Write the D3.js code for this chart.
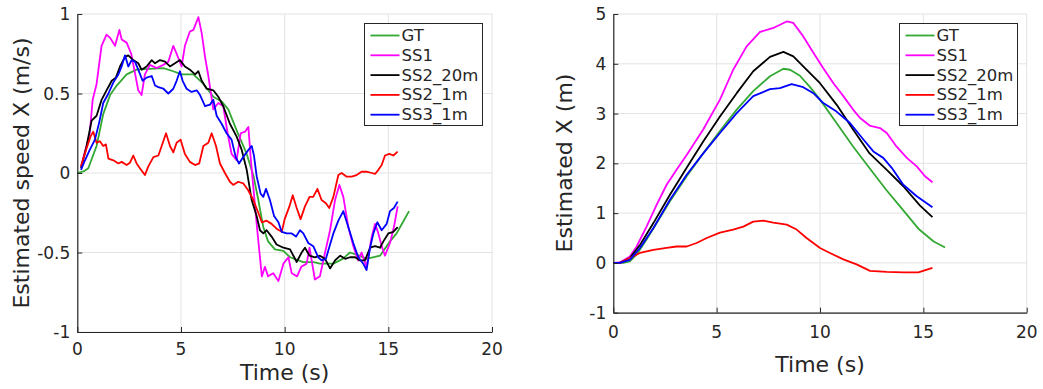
<!DOCTYPE html>
<html><head><meta charset="utf-8">
<script src="https://cdn.jsdelivr.net/npm/d3@7"></script>
<style>
body{margin:0;background:#fff}
svg{display:block}
text{font-family:"DejaVu Sans",sans-serif;fill:#262626}
</style>
</head><body>
<svg id="c" width="1043" height="389"></svg>
<script>
// ---------- DATA ----------
const seriesNames = ["GT", "SS1", "SS2_20m", "SS2_1m", "SS3_1m"];
const xTicks = [0, 5, 10, 15, 20];
const speedYTicks = [-1, -0.5, 0, 0.5, 1];
const posYTicks = [-1, 0, 1, 2, 3, 4, 5];

// Left panel: estimated speed X (m/s) vs time (s)
const speedGT = [[0,0],[0.3,0.01],[0.53,0.03],[0.93,0.17],[1.25,0.37],[1.58,0.49],[1.9,0.55],[2.38,0.62],[2.86,0.65],[3.5,0.655],[4.15,0.66],[4.63,0.64],[5.03,0.62],[5.6,0.62],[6.08,0.56],[6.56,0.48],[6.96,0.45],[7.28,0.40],[7.68,0.27],[8.17,0.12],[8.5,-0.02],[8.73,-0.17],[8.97,-0.34],[9.2,-0.43],[9.53,-0.48],[9.94,-0.49],[10.26,-0.53],[10.9,-0.56],[11.4,-0.56],[11.7,-0.57],[12.35,-0.57],[12.8,-0.54],[13.15,-0.5],[13.6,-0.52],[13.95,-0.54],[14.6,-0.52],[15.08,-0.43],[15.4,-0.38],[15.7,-0.31],[16.0,-0.24]];
const speedSS1 = [[0.18,0.04],[0.6,0.25],[0.74,0.46],[0.93,0.56],[1.17,0.8],[1.41,0.87],[1.58,0.85],[1.82,0.8],[2.03,0.9],[2.14,0.84],[2.38,0.82],[2.6,0.75],[2.78,0.63],[2.94,0.52],[3.1,0.49],[3.26,0.62],[3.5,0.68],[3.83,0.66],[4.15,0.68],[4.39,0.7],[4.63,0.8],[4.79,0.75],[5.03,0.67],[5.19,0.8],[5.43,0.89],[5.6,0.9],[5.84,0.98],[6.0,0.88],[6.16,0.73],[6.32,0.61],[6.56,0.4],[6.8,0.44],[7.04,0.42],[7.25,0.25],[7.44,0.12],[7.68,0.08],[7.88,0.25],[8.09,0.26],[8.25,0.29],[8.36,0.1],[8.49,-0.09],[8.68,-0.36],[8.9,-0.65],[9.05,-0.59],[9.2,-0.65],[9.45,-0.63],[9.7,-0.68],[9.94,-0.57],[10.18,-0.53],[10.34,-0.63],[10.6,-0.65],[10.8,-0.59],[11.06,-0.57],[11.2,-0.47],[11.46,-0.67],[11.7,-0.65],[11.95,-0.5],[12.19,-0.36],[12.43,-0.17],[12.64,-0.075],[12.83,-0.15],[13.07,-0.34],[13.31,-0.46],[13.55,-0.55],[13.71,-0.5],[13.95,-0.59],[14.2,-0.4],[14.36,-0.32],[14.52,-0.38],[14.68,-0.46],[14.84,-0.52],[15.08,-0.44],[15.27,-0.34],[15.45,-0.21]];
const speedSS2_20m = [[0.18,0.03],[0.45,0.17],[0.69,0.33],[0.93,0.36],[1.17,0.46],[1.41,0.52],[1.66,0.58],[1.86,0.6],[2.06,0.67],[2.3,0.73],[2.46,0.74],[2.7,0.71],[2.94,0.69],[3.1,0.65],[3.34,0.67],[3.59,0.71],[3.75,0.69],[3.99,0.71],[4.23,0.7],[4.47,0.67],[4.71,0.69],[4.95,0.71],[5.19,0.67],[5.43,0.65],[5.68,0.62],[5.84,0.64],[6.0,0.58],[6.24,0.53],[6.56,0.52],[6.8,0.48],[7.04,0.42],[7.36,0.31],[7.68,0.23],[7.93,0.145],[8.17,0.02],[8.41,-0.17],[8.65,-0.27],[8.81,-0.36],[8.97,-0.38],[9.13,-0.36],[9.37,-0.4],[9.61,-0.45],[9.94,-0.47],[10.26,-0.48],[10.58,-0.56],[10.82,-0.5],[10.98,-0.47],[11.2,-0.52],[11.46,-0.53],[11.7,-0.52],[11.95,-0.54],[12.19,-0.6],[12.43,-0.55],[12.68,-0.52],[12.92,-0.54],[13.15,-0.53],[13.4,-0.53],[13.63,-0.55],[13.87,-0.55],[14.12,-0.47],[14.36,-0.46],[14.6,-0.47],[14.76,-0.43],[15.0,-0.38],[15.24,-0.37],[15.45,-0.34]];
const speedSS2_1m = [[0.18,0.044],[0.42,0.145],[0.64,0.23],[0.77,0.26],[0.93,0.19],[1.09,0.2],[1.25,0.17],[1.38,0.18],[1.5,0.09],[1.74,0.08],[1.98,0.06],[2.14,0.07],[2.38,0.05],[2.54,0.065],[2.7,0.11],[2.86,0.06],[3.02,0.03],[3.26,-0.013],[3.42,0.04],[3.67,0.1],[3.91,0.11],[4.07,0.17],[4.28,0.25],[4.47,0.17],[4.63,0.13],[4.79,0.19],[4.98,0.21],[5.19,0.12],[5.43,0.07],[5.68,0.05],[5.88,0.06],[6.08,0.17],[6.32,0.19],[6.48,0.25],[6.69,0.17],[6.88,0.06],[7.12,0],[7.36,-0.055],[7.52,-0.075],[7.76,-0.055],[8.0,-0.065],[8.25,-0.11],[8.49,-0.17],[8.73,-0.25],[8.9,-0.31],[9.13,-0.3],[9.37,-0.32],[9.61,-0.35],[9.86,-0.37],[10.0,-0.29],[10.23,-0.21],[10.39,-0.14],[10.58,-0.22],[10.77,-0.29],[10.98,-0.21],[11.2,-0.15],[11.38,-0.15],[11.58,-0.1],[11.78,-0.17],[11.99,-0.19],[12.15,-0.22],[12.35,-0.15],[12.59,-0.013],[12.75,0],[12.99,-0.023],[13.23,-0.023],[13.47,-0.013],[13.71,0.008],[13.95,0.008],[14.2,0],[14.36,-0.006],[14.52,0.02],[14.68,0.05],[14.84,0.11],[15.05,0.12],[15.24,0.11],[15.45,0.134]];
const speedSS3_1m = [[0.18,0.02],[0.37,0.08],[0.6,0.145],[0.85,0.21],[1.06,0.32],[1.25,0.44],[1.5,0.5],[1.74,0.57],[1.98,0.62],[2.14,0.67],[2.3,0.74],[2.46,0.67],[2.62,0.71],[2.78,0.7],[2.94,0.65],[3.15,0.58],[3.34,0.6],[3.59,0.61],[3.75,0.55],[3.91,0.54],[4.15,0.53],[4.39,0.5],[4.63,0.53],[4.79,0.58],[4.95,0.64],[5.08,0.58],[5.27,0.53],[5.51,0.51],[5.76,0.52],[5.92,0.49],[6.16,0.42],[6.4,0.43],[6.56,0.46],[6.72,0.36],[6.96,0.31],[7.2,0.25],[7.44,0.21],[7.64,0.1],[7.8,0.06],[8.0,0.1],[8.25,0.145],[8.41,0.17],[8.52,0.11],[8.65,-0.02],[8.84,-0.13],[8.97,-0.15],[9.1,-0.1],[9.29,-0.17],[9.49,-0.27],[9.7,-0.31],[9.86,-0.37],[10.1,-0.38],[10.34,-0.38],[10.55,-0.4],[10.74,-0.36],[10.9,-0.38],[11.14,-0.44],[11.38,-0.46],[11.62,-0.53],[11.78,-0.55],[11.99,-0.54],[12.19,-0.45],[12.35,-0.38],[12.59,-0.3],[12.83,-0.24],[13.07,-0.34],[13.31,-0.44],[13.55,-0.53],[13.79,-0.57],[13.95,-0.61],[14.12,-0.47],[14.28,-0.38],[14.47,-0.31],[14.68,-0.36],[14.92,-0.32],[15.08,-0.24],[15.27,-0.22],[15.45,-0.18]];

// Right panel: estimated X (m) vs time (s)
const posGT = [[0,0],[0.48,0],[0.8,0.03],[1.13,0.17],[1.61,0.47],[2.1,0.8],[2.74,1.24],[3.55,1.74],[4.35,2.2],[5.16,2.65],[5.97,3.08],[6.77,3.45],[7.58,3.75],[8.23,3.9],[8.55,3.88],[9.03,3.76],[9.52,3.53],[10.0,3.28],[10.8,2.81],[11.6,2.34],[12.4,1.9],[13.2,1.47],[14.0,1.07],[14.8,0.67],[15.5,0.43],[16.05,0.31]];
const posSS1 = [[0,0],[0.32,0.01],[0.8,0.13],[1.13,0.33],[1.61,0.73],[2.1,1.17],[2.58,1.57],[3.06,1.87],[3.55,2.17],[4.35,2.68],[5.16,3.28],[5.8,3.88],[6.45,4.35],[7.1,4.64],[7.74,4.72],[8.39,4.85],[8.71,4.82],[9.19,4.55],[9.68,4.22],[10.16,3.91],[10.65,3.61],[11.13,3.35],[11.6,3.08],[11.94,2.91],[12.4,2.76],[12.9,2.71],[13.23,2.61],[13.7,2.34],[14.2,2.11],[14.68,1.94],[15.08,1.74],[15.44,1.62]];
const posSS2_20m = [[0,0],[0.32,0],[0.8,0.1],[1.29,0.36],[1.94,0.8],[2.74,1.37],[3.55,1.91],[4.35,2.44],[5.16,2.94],[5.97,3.41],[6.77,3.85],[7.58,4.14],[8.23,4.24],[8.71,4.15],[9.19,3.95],[10.0,3.61],[10.8,3.18],[11.6,2.68],[12.4,2.2],[13.23,1.87],[14.03,1.54],[14.84,1.15],[15.44,0.92]];
const posSS2_1m = [[0,0],[0.32,0],[0.8,0.1],[1.29,0.2],[1.94,0.26],[2.58,0.3],[3.06,0.33],[3.55,0.33],[4.03,0.4],[4.52,0.5],[5.16,0.61],[5.8,0.67],[6.29,0.73],[6.77,0.83],[7.26,0.85],[7.74,0.81],[8.39,0.77],[8.87,0.67],[9.35,0.5],[10.0,0.3],[10.48,0.2],[11.13,0.07],[11.77,-0.03],[12.42,-0.16],[13.23,-0.18],[14.03,-0.19],[14.76,-0.19],[15.44,-0.1]];
const posSS3_1m = [[0,0],[0.32,0],[0.8,0.06],[1.29,0.3],[1.94,0.7],[2.74,1.27],[3.55,1.77],[4.35,2.2],[5.16,2.61],[5.97,3.01],[6.77,3.35],[7.58,3.49],[8.06,3.51],[8.63,3.59],[9.19,3.53],[9.68,3.41],[10.16,3.21],[10.8,3.04],[11.45,2.81],[12.1,2.48],[12.58,2.24],[13.06,2.11],[13.47,1.91],[14.03,1.57],[14.68,1.34],[15.44,1.12]];

// ---------- DRAW ----------
const colors = ["#33a833", "#ff00ff", "#000000", "#ff0000", "#0000ff"];
const svg = d3.select("#c");

function panel(cfg) {
  const sx = d3.scaleLinear().domain([0, 20]).range([cfg.x0, cfg.x1]);
  const sy = d3.scaleLinear().domain(cfg.yDomain).range([cfg.y1, cfg.y0]);
  const g = svg.append("g");

  // grid
  g.selectAll(".gx").data(cfg.xTicks).enter().append("line")
    .attr("x1", d => sx(d)).attr("x2", d => sx(d))
    .attr("y1", cfg.y0).attr("y2", cfg.y1)
    .attr("stroke", "#e3e3e3").attr("stroke-width", 1);
  g.selectAll(".gy").data(cfg.yTicks).enter().append("line")
    .attr("x1", cfg.x0).attr("x2", cfg.x1)
    .attr("y1", d => sy(d)).attr("y2", d => sy(d))
    .attr("stroke", "#e3e3e3").attr("stroke-width", 1);

  // series
  const line = d3.line().x(d => sx(d[0])).y(d => sy(d[1]));
  cfg.series.forEach((s, i) => {
    g.append("path").attr("d", line(s)).attr("fill", "none")
      .attr("stroke", colors[i]).attr("stroke-width", 1.8)
      .attr("stroke-linejoin", "round");
  });

  // axes (inward ticks)
  const xAxis = d3.axisBottom(sx).tickValues(cfg.xTicks).tickSizeInner(-5).tickSizeOuter(0).tickFormat("");
  const yAxis = d3.axisLeft(sy).tickValues(cfg.yTicks).tickSizeInner(-5).tickSizeOuter(0).tickFormat("");
  const ax = g.append("g").attr("transform", `translate(0,${cfg.y1})`).call(xAxis);
  const ay = g.append("g").attr("transform", `translate(${cfg.x0},0)`).call(yAxis);
  [ax, ay].forEach(a => {
    a.select(".domain").attr("stroke", "#262626").attr("stroke-width", 1.2);
    a.selectAll(".tick line").attr("stroke", "#262626").attr("stroke-width", 1);
  });

  // tick labels
  g.selectAll(".xl").data(cfg.xTicks).enter().append("text")
    .attr("x", d => sx(d)).attr("y", cfg.xLabelY)
    .attr("text-anchor", "middle").attr("dominant-baseline", "central")
    .attr("font-size", 17).text(d => d);
  g.selectAll(".yl").data(cfg.yTicks).enter().append("text")
    .attr("x", cfg.x0 - 7).attr("y", d => sy(d))
    .attr("text-anchor", "end").attr("dominant-baseline", "central")
    .attr("font-size", 17).text(d => d);

  // titles
  g.append("text").attr("x", (cfg.x0 + cfg.x1) / 2).attr("y", cfg.xTitleY)
    .attr("text-anchor", "middle").attr("dominant-baseline", "central")
    .attr("font-size", 22).text("Time (s)");
  g.append("text").attr("transform", `translate(${cfg.yTitleX},${cfg.yTitleY}) rotate(-90)`)
    .attr("text-anchor", "middle").attr("dominant-baseline", "central")
    .attr("font-size", 22).text(cfg.yTitle);

  // legend
  const lg = g.append("g").attr("transform", `translate(${cfg.legX},${cfg.legY})`);
  lg.append("rect").attr("x", 0).attr("y", 0).attr("width", 118).attr("height", 102)
    .attr("fill", "#fff").attr("stroke", "#262626").attr("stroke-width", 1);
  seriesNames.forEach((n, i) => {
    const yy = 12 + i * 19.8;
    lg.append("line").attr("x1", 6).attr("x2", 35).attr("y1", yy).attr("y2", yy)
      .attr("stroke", colors[i]).attr("stroke-width", 1.8);
    lg.append("text").attr("x", 37).attr("y", yy).attr("dominant-baseline", "central")
      .attr("font-size", 16.5).text(n);
  });
}

panel({
  x0: 77.3, x1: 492, y0: 14, y1: 332, yDomain: [-1, 1],
  xTicks: xTicks, yTicks: speedYTicks,
  series: [speedGT, speedSS1, speedSS2_20m, speedSS2_1m, speedSS3_1m],
  xLabelY: 348.5, xTitleY: 372, yTitleX: 21, yTitleY: 173,
  yTitle: "Estimated speed X (m/s)", legX: 364.5, legY: 23.5
});
panel({
  x0: 613.3, x1: 1026.7, y0: 14, y1: 312.7, yDomain: [-1, 5],
  xTicks: xTicks, yTicks: posYTicks,
  series: [posGT, posSS1, posSS2_20m, posSS2_1m, posSS3_1m],
  xLabelY: 331.5, xTitleY: 364, yTitleX: 564, yTitleY: 163,
  yTitle: "Estimated X (m)", legX: 899.5, legY: 23.5
});
</script>
</body></html>
